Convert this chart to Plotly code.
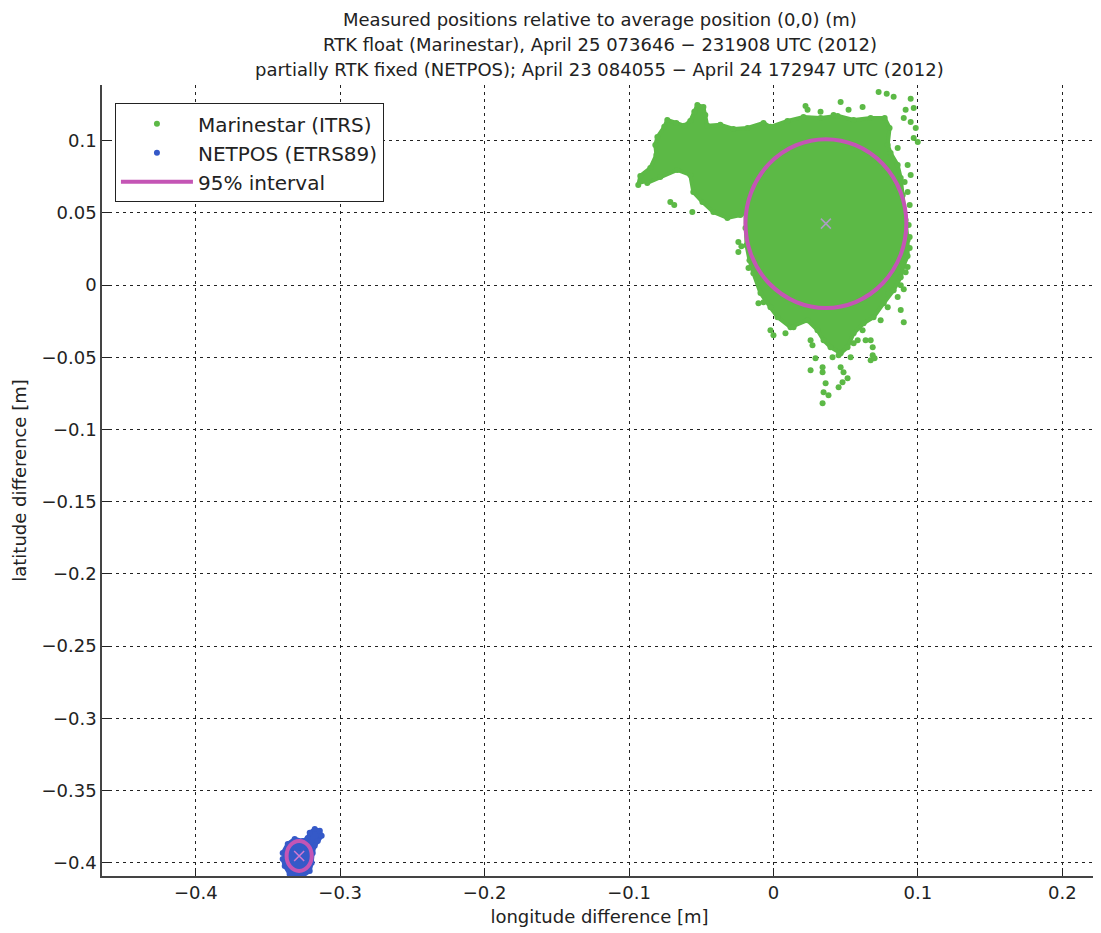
import plotly.graph_objects as go

# ---------------- data (metres) ----------------
# Outline of the dense Marinestar (ITRS) point cloud
green_outline_x = [-0.0936, -0.0922, -0.0853, -0.0811, -0.0818, -0.0804, -0.0756, -0.0735, -0.0673, -0.0617,
                   -0.0576, -0.0548, -0.0527, -0.0485, -0.0472, -0.0458, -0.0368, -0.0277, -0.0180, -0.0069,
                   -0.0021, 0.0097, 0.0208, 0.0326, 0.0444, 0.0555, 0.0673, 0.0770, 0.0804, 0.0791,
                   0.0811, 0.0860, 0.0881, 0.0895, 0.0915, 0.0929, 0.0929, 0.0902, 0.0881, 0.0832,
                   0.0763, 0.0693, 0.0624, 0.0555, 0.0513, 0.0465, 0.0395, 0.0347, 0.0305, 0.0236,
                   0.0118, 0.0028, -0.0021, -0.0090, -0.0139, -0.0166, -0.0187, -0.0194, -0.0194, -0.0229,
                   -0.0319, -0.0416, -0.0492, -0.0555, -0.0576, -0.0666, -0.0784, -0.0874]
green_outline_y = [0.0693, 0.0756, 0.0811, 0.0902, 0.0971, 0.1026, 0.1096, 0.1144, 0.1123, 0.1103,
                   0.1137, 0.1200, 0.1248, 0.1234, 0.1179, 0.1103, 0.1110, 0.1082, 0.1089, 0.1123,
                   0.1096, 0.1137, 0.1165, 0.1158, 0.1172, 0.1144, 0.1158, 0.1158, 0.1089, 0.0971,
                   0.0915, 0.0832, 0.0742, 0.0624, 0.0451, 0.0312, 0.0201, 0.0139, 0.0055, -0.0035,
                   -0.0125, -0.0222, -0.0264, -0.0333, -0.0430, -0.0472, -0.0430, -0.0381, -0.0312, -0.0243,
                   -0.0291, -0.0222, -0.0153, -0.0055, 0.0083, 0.0173, 0.0277, 0.0395, 0.0506, 0.0485,
                   0.0465, 0.0506, 0.0576, 0.0645, 0.0763, 0.0798, 0.0749, 0.0707]

# Scattered Marinestar points outside the dense cloud
green_pts_x = [0.0728, 0.0784, 0.0832, 0.0950, 0.0971, 0.0915, 0.0902, 0.0950, 0.0985, 0.0971,
               0.0999, 0.0465, 0.0222, 0.0236, 0.0416, 0.0860, 0.0929, 0.0950, 0.0908, 0.0929,
               0.0943, 0.0936, 0.0943, 0.0943, 0.0915, 0.0881, 0.0902, -0.0714, -0.0687, -0.0562,
               -0.0243, -0.0222, -0.0243, -0.0173, -0.0104, -0.0069, -0.0021, 0.0000, 0.0083, 0.0139,
               0.0257, 0.0270, 0.0257, 0.0291, 0.0340, 0.0340, 0.0361, 0.0347, 0.0381, 0.0340,
               0.0409, 0.0451, 0.0465, 0.0485, 0.0451, 0.0478, 0.0513, 0.0534, 0.0555, 0.0583,
               0.0617, 0.0638, 0.0673, 0.0687, 0.0687, 0.0673, 0.0700, 0.0742, 0.0791, 0.0860,
               0.0881, 0.0902, 0.0798, 0.0929, 0.0326, 0.0520, 0.0617]
green_pts_y = [0.1338, 0.1325, 0.1304, 0.1290, 0.1227, 0.1214, 0.1158, 0.1130, 0.1089, 0.1019,
               0.0992, 0.1269, 0.1241, 0.1214, 0.1179, 0.0950, 0.0832, 0.0763, 0.0714, 0.0645,
               0.0555, 0.0416, 0.0333, 0.0257, 0.0090, 0.0000, -0.0028, 0.0576, 0.0555, 0.0506,
               0.0298, 0.0270, 0.0229, 0.0118, -0.0125, -0.0118, -0.0312, -0.0347, -0.0333, -0.0291,
               -0.0381, -0.0416, -0.0589, -0.0506, -0.0569, -0.0603, -0.0680, -0.0742, -0.0763, -0.0818,
               -0.0499, -0.0485, -0.0569, -0.0603, -0.0707, -0.0673, -0.0645, -0.0499, -0.0402, -0.0381,
               -0.0312, -0.0381, -0.0381, -0.0430, -0.0485, -0.0520, -0.0506, -0.0243, -0.0153, -0.0083,
               -0.0173, -0.0257, -0.0055, 0.0125, 0.1200, 0.1214, 0.1234]

# Outline of the NETPOS (ETRS89) point cloud
blue_outline_x = [-0.3398, -0.3363, -0.3315, -0.3259, -0.3225, -0.3211, -0.3176, -0.3141, -0.3128, -0.3155,
                  -0.3176, -0.3190, -0.3197, -0.3211, -0.3259, -0.3301, -0.3350, -0.3384, -0.3398]
blue_outline_y = [-0.3932, -0.3870, -0.3835, -0.3849, -0.3828, -0.3793, -0.3766, -0.3779, -0.3814, -0.3849,
                  -0.3883, -0.3932, -0.4001, -0.4057, -0.4092, -0.4105, -0.4078, -0.4022, -0.3974]

# 95% interval ellipses: [Marinestar, NETPOS]
center_x = [0.0363, -0.3284]
center_y = [0.0426, -0.3953]
radius_x = [0.0557, 0.0087]
radius_y = [0.0584, 0.0104]

x_ticks = [-0.4, -0.3, -0.2, -0.1, 0, 0.1, 0.2]
x_tick_text = ["\u22120.4", "\u22120.3", "\u22120.2", "\u22120.1", "0", "0.1", "0.2"]
y_ticks = [0.1, 0.05, 0, -0.05, -0.1, -0.15, -0.2, -0.25, -0.3, -0.35, -0.4]
y_tick_text = ["0.1", "0.05", "0", "\u22120.05", "\u22120.1", "\u22120.15", "\u22120.2",
               "\u22120.25", "\u22120.3", "\u22120.35", "\u22120.4"]

title_lines = ["Measured positions relative to average position (0,0) (m)",
               "RTK float (Marinestar), April 25 073646 \u2212 231908 UTC (2012)",
               "partially RTK fixed (NETPOS); April 23 084055 \u2212 April 24 172947 UTC (2012)"]

GREEN = "#5cb946"
BLUE = "#3559c8"
MAGENTA = "#c455b5"
FONT = "DejaVu Sans"
TEXT = "#222222"

fig = go.Figure()

# dense clouds (filled outlines)
fig.add_trace(go.Scatter(x=green_outline_x, y=green_outline_y, mode="lines", fill="toself",
                         fillcolor=GREEN, line=dict(color=GREEN, width=4), showlegend=False,
                         hoverinfo="skip"))
fig.add_trace(go.Scatter(x=blue_outline_x, y=blue_outline_y, mode="lines", fill="toself",
                         fillcolor=BLUE, line=dict(color=BLUE, width=4), showlegend=False,
                         hoverinfo="skip"))

# individual points
fig.add_trace(go.Scatter(x=green_outline_x + green_pts_x, y=green_outline_y + green_pts_y,
                         mode="markers", name="Marinestar (ITRS)",
                         marker=dict(color=GREEN, size=6, line=dict(width=0))))
fig.add_trace(go.Scatter(x=blue_outline_x, y=blue_outline_y, mode="markers", name="NETPOS (ETRS89)",
                         marker=dict(color=BLUE, size=6, line=dict(width=0))))

# legend entry for the 95% interval (ellipses are drawn as shapes)
fig.add_trace(go.Scatter(x=[None], y=[None], mode="lines", name="95% interval",
                         line=dict(color=MAGENTA, width=4)))

# centre marks
fig.add_trace(go.Scatter(x=center_x[:1], y=center_y[:1], mode="markers", showlegend=False,
                         marker=dict(symbol="x-thin", size=10, line=dict(color="#ab9cc4", width=1.5))))
fig.add_trace(go.Scatter(x=center_x[1:], y=center_y[1:], mode="markers", showlegend=False,
                         marker=dict(symbol="x-thin", size=10, line=dict(color="#d27ad0", width=1.5))))

for cx, cy, rx, ry in zip(center_x, center_y, radius_x, radius_y):
    fig.add_shape(type="circle", xref="x", yref="y", x0=cx - rx, x1=cx + rx, y0=cy - ry, y1=cy + ry,
                  line=dict(color=MAGENTA, width=4), layer="above")

# three-line title
for line, ypos in zip(title_lines, [1.0834, 1.0518, 1.0202]):
    fig.add_annotation(text=line, xref="paper", yref="paper", x=0.5, y=ypos,
                       xanchor="center", yanchor="middle", showarrow=False,
                       font=dict(family=FONT, size=18, color=TEXT))

axis_common = dict(
    showgrid=True, gridcolor="#222222", gridwidth=1, griddash="3px,4px",
    zeroline=False, showline=True, linecolor="#444444", linewidth=1.5,
    ticks="inside", ticklen=8, tickcolor="#222222", tickwidth=1,
    tickfont=dict(family=FONT, size=18, color=TEXT),
)

fig.update_layout(
    width=1093, height=925,
    paper_bgcolor="white", plot_bgcolor="white",
    margin=dict(l=94, r=4, t=77, b=57),
    font=dict(family=FONT, color=TEXT),
    xaxis=dict(range=[-0.4649, 0.2240], tickvals=x_ticks, ticktext=x_tick_text,
               title=dict(text="longitude difference [m]", font=dict(family=FONT, size=18, color=TEXT),
                          standoff=8),
               **axis_common),
    yaxis=dict(range=[-0.4092, 0.1386], tickvals=y_ticks, ticktext=y_tick_text,
               title=dict(text="latitude difference [m]", font=dict(family=FONT, size=18, color=TEXT),
                          standoff=10),
               **axis_common),
    legend=dict(x=0.013, y=0.977, xanchor="left", yanchor="top", bgcolor="white",
                bordercolor="#222222", borderwidth=1, itemwidth=72,
                font=dict(family=FONT, size=20, color=TEXT)),
    showlegend=True,
)

fig.write_html("out.html")
